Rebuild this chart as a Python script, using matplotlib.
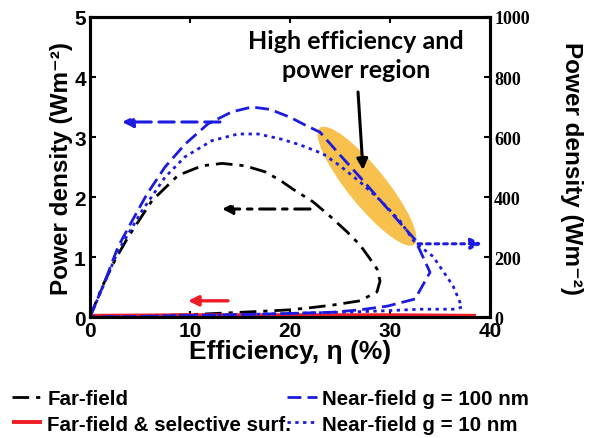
import matplotlib
matplotlib.use('Agg')
from matplotlib import pyplot as plt
from matplotlib import transforms
from matplotlib.patches import Ellipse

# far-field (left axis, W/m^2)
eta_ff = [0, 1.2, 2.5, 3.8, 6.2, 8.8, 11.2, 13.2, 15.5, 17.5, 19, 20.3, 22.3, 24,
          25.7, 27, 28, 28.7, 29, 28.7, 27, 24.3, 22.3, 20, 17.7, 14, 10, 6, 3, 0]
p_ff = [0, 0.5, 0.95, 1.33, 1.94, 2.36, 2.52, 2.56, 2.52, 2.42, 2.28, 2.13, 1.92,
        1.68, 1.42, 1.2, 0.97, 0.8, 0.6, 0.42, 0.27, 0.2, 0.16, 0.12, 0.1, 0.07,
        0.04, 0.02, 0.01, 0]

# far-field & selective surface (left axis)
eta_sel = [0, 10, 20, 30, 38.6]
p_sel = [0.02, 0.03, 0.03, 0.03, 0.02]

# near-field g = 100 nm (right axis, W/m^2)
eta_nf100 = [0, 1.5, 2.8, 4.2, 5.7, 7.5, 9.5, 11.8, 14.2, 16.2, 18, 20, 21.5, 23,
             25, 27, 29, 31, 32.5, 34, 32.5, 29.7, 27, 24.3, 20, 15, 10, 5, 0]
p_nf100 = [0, 120, 234, 320, 410, 500, 576, 644, 684, 700, 692, 666, 640, 616,
           540, 466, 390, 314, 258, 149, 60, 36, 24, 16, 12, 8, 5, 2, 0]

# near-field g = 10 nm (right axis)
eta_nf10 = [0, 1.4, 2.8, 5.2, 7.5, 9.5, 12.2, 14.8, 16.8, 19, 21, 23.3, 25, 27, 29,
            31, 32.5, 34.3, 36.3, 37.2, 36.5, 33, 29, 25, 20, 15, 10, 5, 0]
p_nf10 = [0, 110, 220, 354, 466, 534, 588, 610, 610, 594, 574, 544, 504, 450, 390,
          320, 248, 202, 104, 33, 26, 26, 20, 16, 12, 8, 6, 2, 0]

left_ticks = [0, 1, 2, 3, 4, 5]
right_ticks = [0, 200, 400, 600, 800, 1000]
x_ticks = [0, 10, 20, 30, 40]

BLUE = '#1c1ce0'
RED = '#ee1c24'
SANS = ['Liberation Sans', 'DejaVu Sans']

fig = plt.figure(figsize=(5.97, 4.39), dpi=100)
ax = fig.add_axes([0.1508, 0.2756, 0.67, 0.6834])
ax2 = ax.twinx()

lw = 2.0
l_ff, = ax.plot(eta_ff, p_ff, color='black', lw=lw, dashes=(6, 2.5, 1.5, 2.5))
l_sel, = ax.plot(eta_sel, p_sel, color=RED, lw=2.8, solid_capstyle='butt',
                 zorder=5, clip_on=False)
l_100, = ax2.plot(eta_nf100, p_nf100, color=BLUE, lw=lw, dashes=(5, 2.2))
l_10, = ax2.plot(eta_nf10, p_nf10, color=BLUE, lw=lw, dashes=(1.2, 1.6))

ax.set_xlim(0, 40)
ax.set_ylim(0, 5)
ax2.set_ylim(0, 1000)
ax.set_xticks(x_ticks)
ax.set_yticks(left_ticks)
ax2.set_yticks(right_ticks)

for a in (ax, ax2):
    for s in a.spines.values():
        s.set_linewidth(2.2)
ax.tick_params(direction='in', length=4, width=1.5, top=True, pad=3)
ax2.tick_params(direction='in', length=4, width=1.5, pad=3)
for t in ax.get_xticklabels() + ax.get_yticklabels():
    t.set_fontfamily(SANS)
    t.set_fontweight('bold')
    t.set_fontsize(15)
for t in ax2.get_yticklabels():
    t.set_fontfamily(['Liberation Serif', 'DejaVu Serif'])
    t.set_fontweight('bold')
    t.set_fontsize(13)

ax.set_xlabel('Efficiency, η (%)', fontfamily=SANS, fontweight='bold',
              fontsize=19, labelpad=-1)
ax.set_ylabel('Power density (Wm⁻²)', fontfamily=SANS, fontweight='bold',
              fontsize=17.5, labelpad=1)
ax2.set_ylabel('Power density (Wm⁻²)', fontfamily=SANS, fontweight='bold',
               fontsize=17.5, rotation=-90, labelpad=38)

# highlighted region
tr = fig.dpi_scale_trans + transforms.ScaledTranslation(27.7, 2.18, ax.transData)
ax.add_patch(Ellipse((0, 0), 1.5, 0.38, angle=-51, transform=tr,
                     facecolor='#f7b52c', edgecolor='none', alpha=0.85, zorder=1))

ax.text(26.6, 4.37, 'High efficiency and\npower region', ha='center', va='center',
        fontfamily=['Lato', 'DejaVu Sans'], fontweight='bold', fontsize=18,
        linespacing=1.3)
ax.annotate('', xy=(27.3, 2.45), xytext=(26.8, 3.75),
            arrowprops=dict(arrowstyle='-|>', color='black', lw=2.2,
                            mutation_scale=16, shrinkA=0, shrinkB=0))

# axis direction arrows
ax.annotate('', xy=(3.2, 3.25), xytext=(13.0, 3.25),
            arrowprops=dict(arrowstyle='-|>', color=BLUE, lw=2.2, ls=(0, (5, 2.5)),
                            mutation_scale=16, shrinkA=0, shrinkB=0))
ax.annotate('', xy=(13.2, 1.8), xytext=(22.0, 1.8),
            arrowprops=dict(arrowstyle='-|>', color='black', lw=2.2,
                            ls=(0, (5, 2.5, 1.5, 2.5)),
                            mutation_scale=15, shrinkA=0, shrinkB=0))
ax.annotate('', xy=(9.8, 0.27), xytext=(13.8, 0.27),
            arrowprops=dict(arrowstyle='-|>', color=RED, lw=2.4,
                            mutation_scale=15, shrinkA=0, shrinkB=0))
ax.annotate('', xy=(39.2, 1.22), xytext=(32.8, 1.22),
            arrowprops=dict(arrowstyle='-|>', color=BLUE, lw=2.2, ls=(0, (1.2, 1.6)),
                            mutation_scale=16, shrinkA=0, shrinkB=0))

fig.legend([l_ff, l_sel, l_100, l_10],
           ['Far-field', 'Far-field & selective surf.',
            'Near-field g = 100 nm', 'Near-field g = 10 nm'],
           loc='lower left', bbox_to_anchor=(0.0, -0.018), ncol=2, frameon=False,
           prop=dict(family=SANS, weight='bold', size=14.8),
           handlelength=1.45, handletextpad=0.25, columnspacing=-0.2,
           labelspacing=0.3, borderaxespad=0.2)

fig.savefig('out.png', dpi=100)
